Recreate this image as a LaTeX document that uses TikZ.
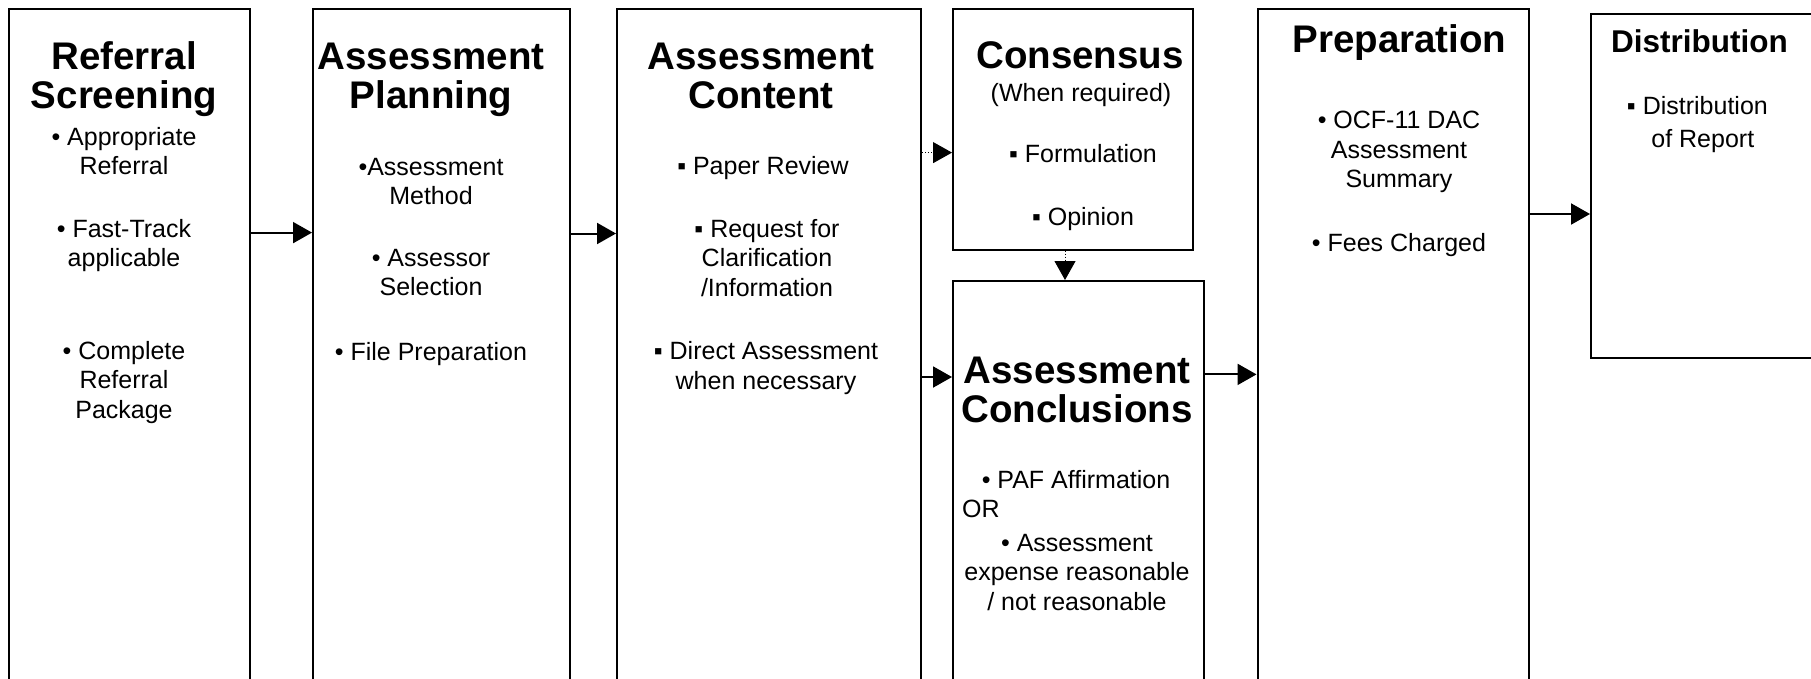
\documentclass[tikz,border=0pt]{standalone}
\usepackage{fontspec}
\setmainfont{Liberation Sans}
\usetikzlibrary{arrows.meta}
\begin{document}
\begin{tikzpicture}[x=1pt,y=-1pt,
  stage/.style={draw=black, line width=2pt, rectangle, anchor=north west, inner sep=0pt},
  ttl/.style={font=\fontsize{38.5}{39.5}\selectfont\bfseries, align=center, inner sep=0pt, anchor=base},
  subttl/.style={font=\fontsize{31.5}{33}\selectfont\bfseries, inner sep=0pt, anchor=base west},
  txt/.style={font=\fontsize{25}{29.5}\selectfont, align=center, inner sep=0pt, anchor=base},
  flow/.style={line width=2pt, -{Triangle[length=19pt,width=21pt]}},
  dotflow/.style={line width=1pt, dotted, -{Triangle[length=19pt,width=21pt]}}]
\clip (0,0) rectangle (1811,678);
\fill[white] (0,0) rectangle (1811,678);

% process stages
\node[stage, minimum width=241pt, minimum height=700pt] (b1) at (8,8) {};
\node[stage, minimum width=257pt, minimum height=700pt] (b2) at (312,8) {};
\node[stage, minimum width=304pt, minimum height=700pt] (b3) at (616,8) {};
\node[stage, minimum width=240pt, minimum height=240.6pt] (b4) at (952,8) {};
\node[stage, minimum width=251pt, minimum height=430pt] (b5) at (952,280) {};
\node[stage, minimum width=271.5pt, minimum height=700pt] (b6) at (1256.5,8) {};
\node[stage, minimum width=260pt, minimum height=344pt] (b7) at (1590,13) {};

% Referral Screening (node positions are last-line baselines)
\node[ttl] (t1) at (124,108.5) {Referral\\Screening};
\node[txt] (i11) at (124,174.5) {• Appropriate\\Referral};
\node[txt] (i12) at (124,266.5) {• Fast-Track\\applicable};
\node[txt] (i13) at (124,418) {• Complete\\Referral\\Package};

% Assessment Planning
\node[ttl] (t2) at (431,108.5) {Assessment\\Planning};
\node[txt] (i21) at (431,204.5) {•Assessment\\Method};
\node[txt] (i22) at (431,295.5) {• Assessor\\Selection};
\node[txt] (i23) at (431,360) {• File Preparation};

% Assessment Content
\node[ttl] (t3) at (761,108.5) {Assessment\\Content};
\node[txt] (i31) at (763,174) {▪ Paper Review};
\node[txt] (i32) at (767,296) {▪ Request for\\Clarification\\/Information};
\node[txt] (i33) at (766,389) {▪ Direct Assessment\\when necessary};

% Consensus
\node[ttl] (t4) at (1080,68) {Consensus};
\node[txt] (s4) at (1081,101.6) {(When required)};
\node[txt] (i41) at (1083,162) {▪ Formulation};
\node[txt] (i42) at (1083,225.7) {▪ Opinion};

% Assessment Conclusions
\node[ttl] (t5) at (1077,422.5) {Assessment\\Conclusions};
\node[txt] (i51) at (1076,488.5) {• PAF Affirmation};
\node[txt, anchor=base west] (or5) at (962,517.5) {OR};
\node[txt] (i52) at (1077,610) {• Assessment\\expense reasonable\\/ not reasonable};

% Preparation
\node[ttl] (t6) at (1399.5,52.7) {Preparation};
\node[txt] (i61) at (1399,187.8) {• OCF-11 DAC\\Assessment\\Summary};
\node[txt] (i62) at (1399,251.6) {• Fees Charged};

% Distribution
\node[subttl] (t7) at (1611,52.7) {Distribution};
\node[txt, anchor=base west, align=left, font=\fontsize{25}{33.3}\selectfont] (i71) at (1626.7,147.9)
  {▪\hspace{7pt}Distribution\\\hspace*{24.5pt}of Report};

% connectors
\coordinate (y12) at (0,232.6);
\coordinate (y23) at (0,233.5);
\coordinate (y34) at (0,152.6);
\coordinate (y35) at (0,377);
\coordinate (y56) at (0,374.4);
\coordinate (y67) at (0,214);
\coordinate (x45) at (1065,0);
\draw[flow] (b1.east |- y12) -- (b2.west |- y12);
\draw[flow] (b2.east |- y23) -- (b3.west |- y23);
\draw[dotflow] (b3.east |- y34) -- (b4.west |- y34);
\draw[flow] (b3.east |- y35) -- (b5.west |- y35);
\draw[dotflow] (x45 |- b4.south) -- (x45 |- b5.north);
\draw[flow] (b5.east |- y56) -- (b6.west |- y56);
\draw[flow] (b6.east |- y67) -- (b7.west |- y67);
\end{tikzpicture}
\end{document}
